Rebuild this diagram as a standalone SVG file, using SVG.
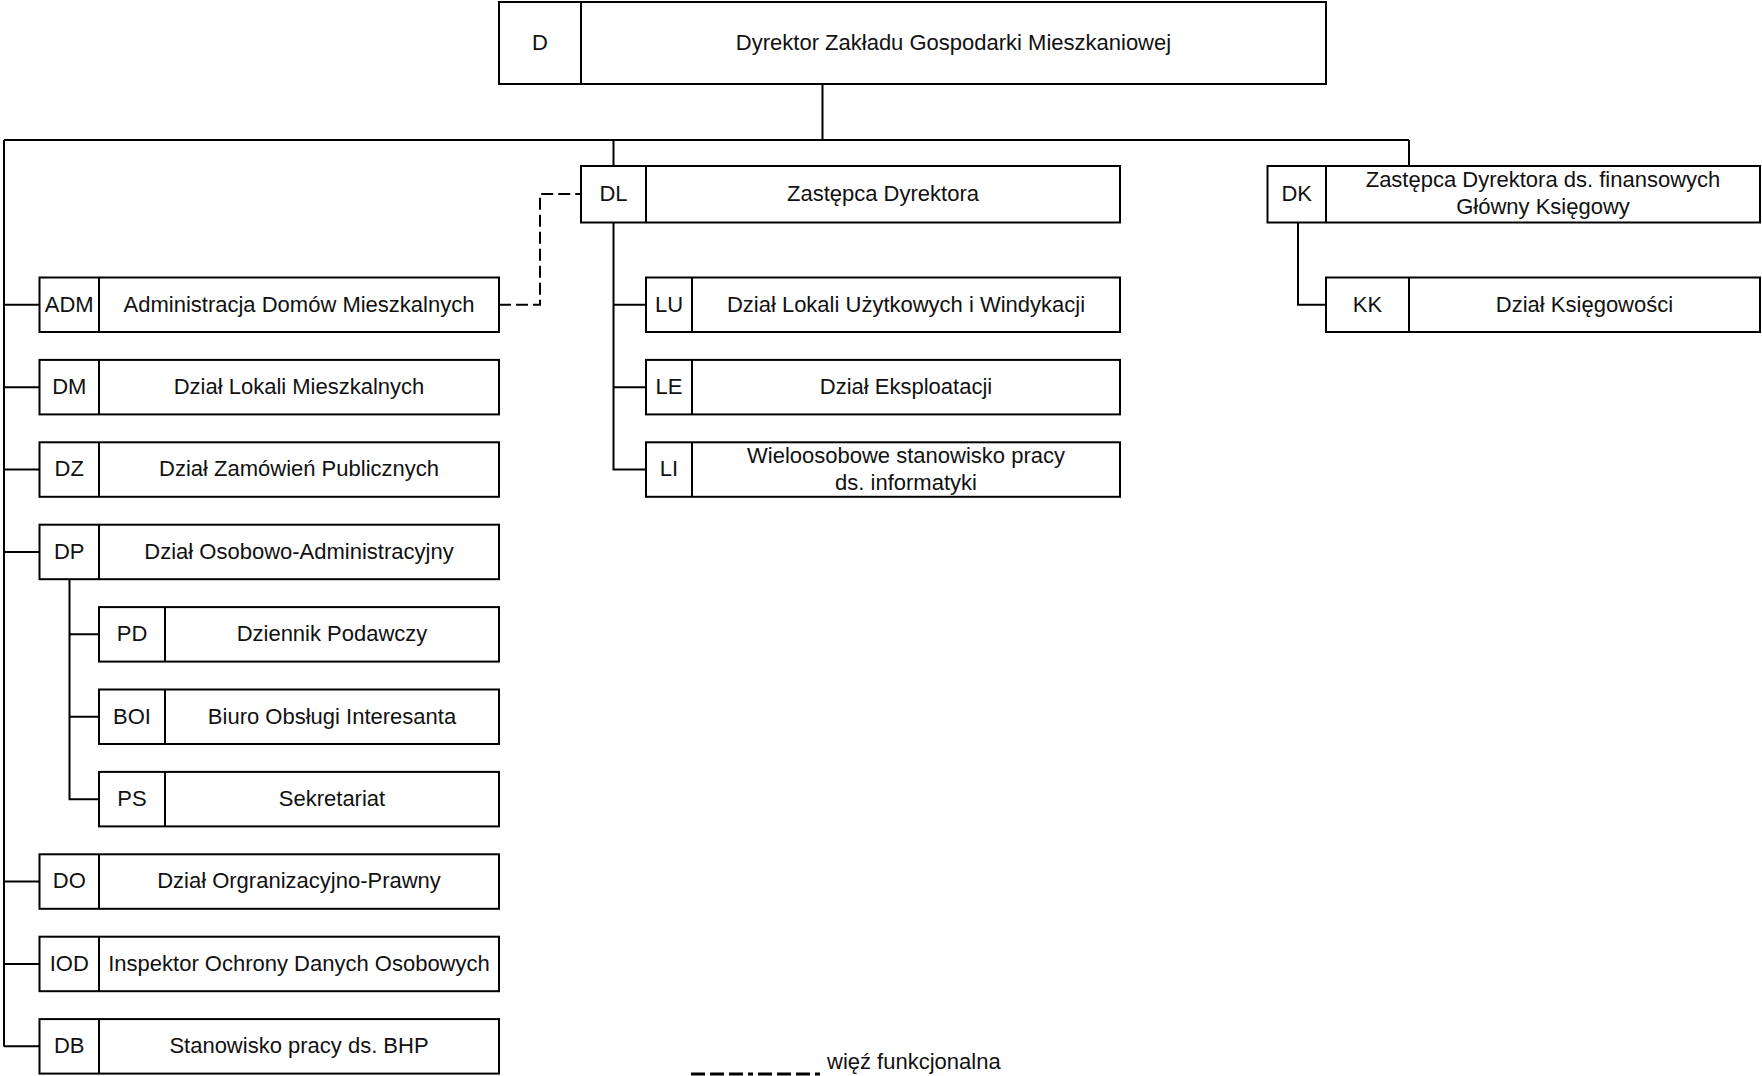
<svg xmlns="http://www.w3.org/2000/svg" width="1762" height="1076" viewBox="0 0 1762 1076">
<style>
  .box{fill:#fff;stroke:#000;stroke-width:2}
  .div{stroke:#000;stroke-width:2}
  .ln{fill:none;stroke:#000;stroke-width:2}
  .dash{fill:none;stroke:#000;stroke-width:2;stroke-dasharray:12,5}
  text{font-family:"Liberation Sans",Arial,sans-serif;font-size:22px;fill:#111;text-anchor:middle}
  .lg{text-anchor:start}
</style>
<rect width="1762" height="1076" fill="#fff"/>
<g id="connectors">
  <path class="ln" d="M822.5,84 V140 M4,140 H1409 M613.5,140 V166 M1409,140 V166"/>
  <path class="ln" d="M4,140 V1046.4 M4,304.75 H39.5 M4,387.15 H39.5 M4,469.55 H39.5 M4,551.95 H39.5 M4,881.55 H39.5 M4,963.95 H39.5 M4,1046.35 H39.5"/>
  <path class="ln" d="M69.5,579.2 V799.15 H99 M69.5,634.35 H99 M69.5,716.75 H99"/>
  <path class="ln" d="M613.5,222.5 V469.55 H646 M613.5,304.75 H646 M613.5,387.15 H646"/>
  <path class="ln" d="M1298,222.5 V304.75 H1326"/>
  <path class="dash" d="M499,304.75 H540 V194 H581"/>
</g>
<g id="n-D"><rect class="box" x="499" y="2" width="827" height="82"/><line class="div" x1="581" y1="2" x2="581" y2="84"/><text x="540" y="49.5">D</text><text x="953.5" y="49.5">Dyrektor Zakładu Gospodarki Mieszkaniowej</text></g>
<g id="n-DL"><rect class="box" x="581" y="166" width="539" height="56.5"/><line class="div" x1="646" y1="166" x2="646" y2="222.5"/><text x="613.5" y="201">DL</text><text x="883" y="201">Zastępca Dyrektora</text></g>
<g id="n-DK"><rect class="box" x="1267.5" y="166" width="492.5" height="56.5"/><line class="div" x1="1326" y1="166" x2="1326" y2="222.5"/><text x="1296.75" y="201">DK</text><text x="1543" y="187">Zastępca Dyrektora ds. finansowych</text><text x="1543" y="214">Główny Księgowy</text></g>
<g id="n-KK"><rect class="box" x="1326" y="277.5" width="434" height="54.5"/><line class="div" x1="1409" y1="277.5" x2="1409" y2="332"/><text x="1367.5" y="311.5">KK</text><text x="1584.5" y="311.5">Dział Księgowości</text></g>
<g id="n-LU"><rect class="box" x="646" y="277.5" width="474" height="54.5"/><line class="div" x1="692" y1="277.5" x2="692" y2="332"/><text x="669" y="311.5">LU</text><text x="906" y="311.5">Dział Lokali Użytkowych i Windykacji</text></g>
<g id="n-LE"><rect class="box" x="646" y="359.9" width="474" height="54.5"/><line class="div" x1="692" y1="359.9" x2="692" y2="414.4"/><text x="669" y="393.9">LE</text><text x="906" y="393.9">Dział Eksploatacji</text></g>
<g id="n-LI"><rect class="box" x="646" y="442.3" width="474" height="54.5"/><line class="div" x1="692" y1="442.3" x2="692" y2="496.8"/><text x="669" y="476.3">LI</text><text x="906" y="462.8">Wieloosobowe stanowisko pracy</text><text x="906" y="489.8">ds. informatyki</text></g>
<g id="n-ADM"><rect class="box" x="39.5" y="277.5" width="459.5" height="54.5"/><line class="div" x1="99" y1="277.5" x2="99" y2="332"/><text x="69.25" y="311.5">ADM</text><text x="299" y="311.5">Administracja Domów Mieszkalnych</text></g>
<g id="n-DM"><rect class="box" x="39.5" y="359.9" width="459.5" height="54.5"/><line class="div" x1="99" y1="359.9" x2="99" y2="414.4"/><text x="69.25" y="393.9">DM</text><text x="299" y="393.9">Dział Lokali Mieszkalnych</text></g>
<g id="n-DZ"><rect class="box" x="39.5" y="442.3" width="459.5" height="54.5"/><line class="div" x1="99" y1="442.3" x2="99" y2="496.8"/><text x="69.25" y="476.3">DZ</text><text x="299" y="476.3">Dział Zamówień Publicznych</text></g>
<g id="n-DP"><rect class="box" x="39.5" y="524.7" width="459.5" height="54.5"/><line class="div" x1="99" y1="524.7" x2="99" y2="579.2"/><text x="69.25" y="558.7">DP</text><text x="299" y="558.7">Dział Osobowo-Administracyjny</text></g>
<g id="n-PD"><rect class="box" x="99" y="607.1" width="400" height="54.5"/><line class="div" x1="165" y1="607.1" x2="165" y2="661.6"/><text x="132" y="641.1">PD</text><text x="332" y="641.1">Dziennik Podawczy</text></g>
<g id="n-BOI"><rect class="box" x="99" y="689.5" width="400" height="54.5"/><line class="div" x1="165" y1="689.5" x2="165" y2="744"/><text x="132" y="723.5">BOI</text><text x="332" y="723.5">Biuro Obsługi Interesanta</text></g>
<g id="n-PS"><rect class="box" x="99" y="771.9" width="400" height="54.5"/><line class="div" x1="165" y1="771.9" x2="165" y2="826.4"/><text x="132" y="805.9">PS</text><text x="332" y="805.9">Sekretariat</text></g>
<g id="n-DO"><rect class="box" x="39.5" y="854.3" width="459.5" height="54.5"/><line class="div" x1="99" y1="854.3" x2="99" y2="908.8"/><text x="69.25" y="888.3">DO</text><text x="299" y="888.3">Dział Orgranizacyjno-Prawny</text></g>
<g id="n-IOD"><rect class="box" x="39.5" y="936.7" width="459.5" height="54.5"/><line class="div" x1="99" y1="936.7" x2="99" y2="991.2"/><text x="69.25" y="970.7">IOD</text><text x="299" y="970.7">Inspektor Ochrony Danych Osobowych</text></g>
<g id="n-DB"><rect class="box" x="39.5" y="1019.1" width="459.5" height="54.5"/><line class="div" x1="99" y1="1019.1" x2="99" y2="1073.6"/><text x="69.25" y="1053.1">DB</text><text x="299" y="1053.1">Stanowisko pracy ds. BHP</text></g>
<g id="legend"><line class="dash" x1="691" y1="1074" x2="824" y2="1074" style="stroke-width:3;stroke-dasharray:14,5,14,5,14,5,5,5"/><text class="lg" x="827" y="1069">więź funkcjonalna</text></g>
</svg>
